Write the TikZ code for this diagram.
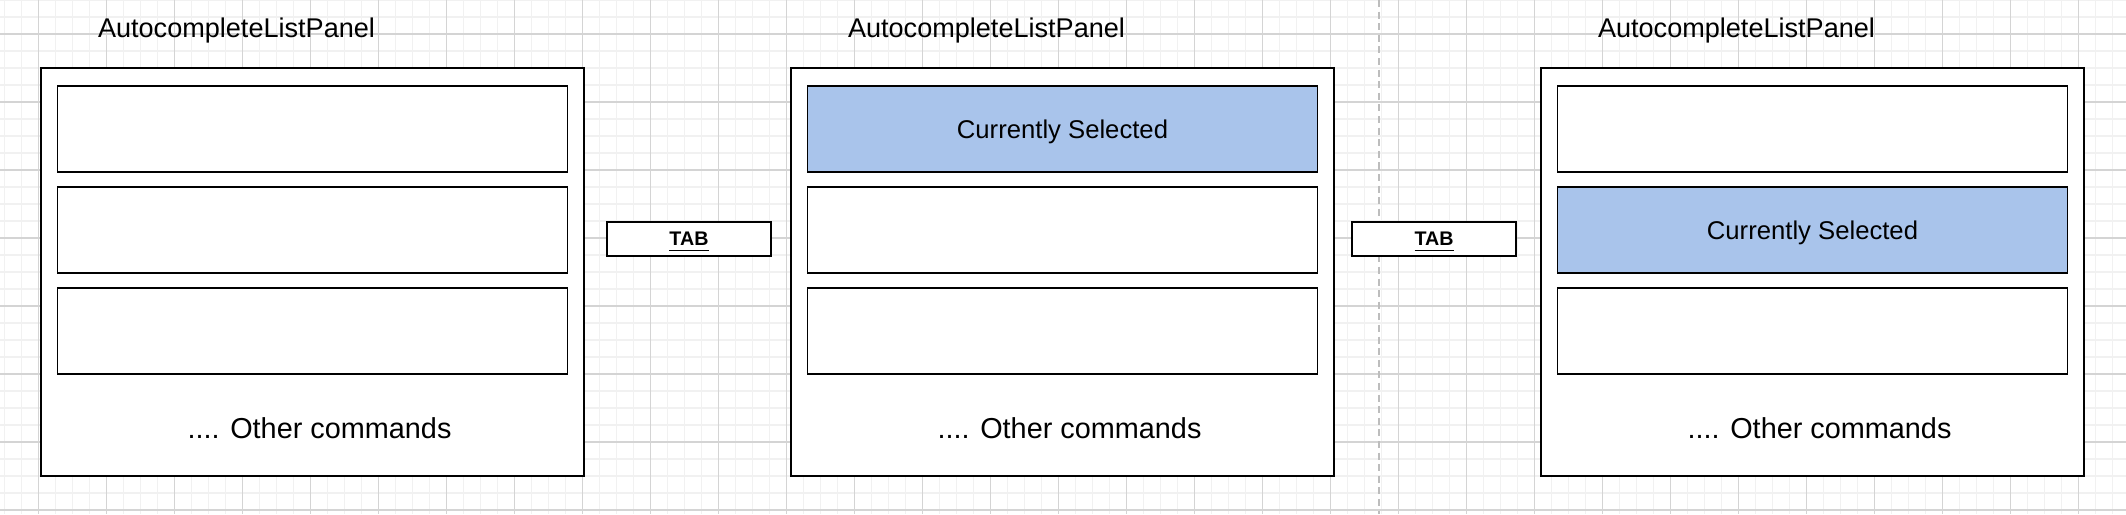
\documentclass[tikz,border=0pt]{standalone}
\usepackage{fontspec}
\setmainfont{Liberation Sans}
\usetikzlibrary{positioning}
\definecolor{selblue}{HTML}{A9C4EB}
\definecolor{gridminor}{HTML}{F1F1F1}
\definecolor{gridmajor}{HTML}{D4D4D4}
\definecolor{splitgray}{HTML}{BDBDBD}
\tikzset{
  panelbox/.style={draw=black, line width=0.45pt, fill=white, minimum width=5.43cm,
                   minimum height=4.08cm, inner sep=0pt},
  rowbox/.style  ={draw=black, line width=0.45pt, fill=white, minimum width=5.10cm,
                   minimum height=0.86cm, inner sep=0pt, text depth=0pt,
                   font=\fontsize{7.3}{9}\selectfont},
  selrow/.style  ={rowbox, fill=selblue},
  tabkey/.style  ={draw=black, line width=0.45pt, fill=white, minimum width=1.64cm,
                   minimum height=0.34cm, inner sep=0pt, text depth=0pt,
                   font=\fontsize{5.6}{7}\selectfont\bfseries},
  ptitle/.style  ={font=\fontsize{7.7}{9}\selectfont, inner sep=0pt},
  moretext/.style={font=\fontsize{8.2}{10}\selectfont, inner sep=0pt},
}
\begin{document}
\begin{tikzpicture}[x=0.01cm,y=-0.01cm]
    \useasboundingbox (0,0) rectangle (2126,514);
    % --- background grid ---
    \fill[white] (0,0) rectangle (2126,514);
    \foreach \gx in {0,...,124} \draw[gridminor,line width=0.3pt] (4.7+17*\gx,0) -- (4.7+17*\gx,514);
    \foreach \gy in {0,...,30} \draw[gridminor,line width=0.3pt] (0,17*\gy) -- (2126,17*\gy);
    \foreach \gx in {0,...,30} \draw[gridmajor,line width=0.3pt] (38.7+68*\gx,0) -- (38.7+68*\gx,514);
    \foreach \gy in {0,...,7} \draw[gridmajor,line width=0.3pt] (0,34+68*\gy) -- (2126,34+68*\gy);
    % --- split line ---
    \coordinate (splittop) at (1379,0);
    \coordinate (splitbot) at (1379,514);
    \draw[splitgray,line width=0.4pt,dash pattern=on 2pt off 1.3pt] (splittop) -- (splitbot);
    % --- list panels ---
    \foreach \p/\px/\s in {1/312.5/0,2/1062.5/1,3/1812.5/2}{
      \node[panelbox] (p\p) at (\px,272) {};
      \node[ptitle] (t\p) at (\px-76,30) {AutocompleteListPanel};
      \foreach \r/\ry in {1/129,2/230,3/331}{
        \ifnum\r=\s
          \node[selrow] (p\p r\r) at (\px,\ry) {Currently Selected};
        \else
          \node[rowbox] (p\p r\r) at (\px,\ry) {};
        \fi
      }
      \node[moretext] (m\p) at (\px+7,428) {.... Other commands};
    }
    % --- key presses ---
    \node[tabkey] (tab1) at (689,239) {\underline{TAB}};
    \node[tabkey] (tab2) at (1434,239) {\underline{TAB}};
\end{tikzpicture}
\end{document}
